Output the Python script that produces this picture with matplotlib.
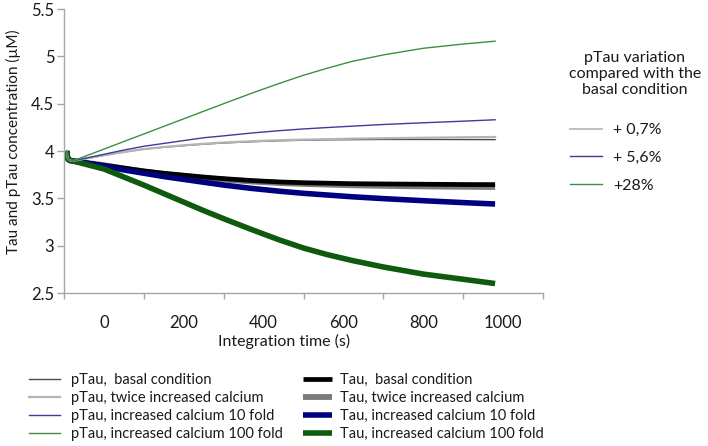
import matplotlib
matplotlib.use("Agg")
import matplotlib.pyplot as plt
from matplotlib.lines import Line2D
from matplotlib.ticker import FixedLocator, FuncFormatter

plt.rcParams['font.family'] = ['Lato', 'DejaVu Sans']

# ---- data ----
time_s = [-93, -92, -90, -85, -78, 0, 50, 100, 150, 200, 250, 300, 370, 440,
          500, 560, 620, 700, 800, 900, 980]
start = [4.00, 3.95, 3.915, 3.90, 3.895]

ptau_basal = start + [3.955, 3.99, 4.02, 4.04, 4.057, 4.072, 4.085, 4.098, 4.108,
                      4.114, 4.118, 4.12, 4.122, 4.122, 4.121, 4.12]
ptau_twice = start + [3.955, 3.99, 4.02, 4.042, 4.06, 4.076, 4.09, 4.103, 4.114,
                      4.12, 4.125, 4.13, 4.135, 4.14, 4.145, 4.148]
ptau_10 = start + [3.965, 4.01, 4.05, 4.08, 4.11, 4.14, 4.16, 4.19, 4.215,
                   4.233, 4.248, 4.262, 4.28, 4.298, 4.315, 4.33]
ptau_100 = start + [4.02, 4.10, 4.18, 4.26, 4.34, 4.42, 4.50, 4.61, 4.715,
                    4.80, 4.875, 4.945, 5.015, 5.085, 5.13, 5.16]

tau_basal = start + [3.85, 3.82, 3.79, 3.765, 3.745, 3.725, 3.708, 3.688, 3.673,
                     3.665, 3.66, 3.655, 3.652, 3.649, 3.646, 3.645]
tau_twice = start + [3.85, 3.815, 3.783, 3.757, 3.735, 3.715, 3.698, 3.678, 3.662,
                     3.652, 3.645, 3.638, 3.632, 3.626, 3.622, 3.62]
tau_10 = start + [3.84, 3.80, 3.765, 3.73, 3.70, 3.67, 3.64, 3.605, 3.575,
                  3.553, 3.535, 3.517, 3.497, 3.475, 3.455, 3.44]
tau_100 = start + [3.81, 3.725, 3.64, 3.55, 3.46, 3.37, 3.285, 3.17, 3.06,
                   2.975, 2.905, 2.845, 2.775, 2.70, 2.645, 2.60]

x_labels = [0, 200, 400, 600, 800, 1000]
y_ticks = [2.5, 3, 3.5, 4, 4.5, 5, 5.5]

ptau_labels = ["pTau,  basal condition", "pTau, twice increased calcium",
               "pTau, increased calcium 10 fold", "pTau, increased calcium 100 fold"]
tau_labels = ["Tau,  basal condition", "Tau, twice increased calcium",
              "Tau, increased calcium 10 fold", "Tau, increased calcium 100 fold"]
var_labels = ["+ 0,7%", "+ 5,6%", "+28%"]
var_title = "pTau variation\ncompared with the\nbasal condition"

# ---- styles ----
ptau_colors = ["#4a4a4a", "#b4b4b4", "#3c3c9c", "#3f8f3f"]
ptau_lw = [1.0, 1.6, 1.0, 1.0]
tau_colors = ["#000000", "#7a7a7a", "#00007f", "#0e5a0e"]
tau_lw = [3.4, 4.2, 4.0, 4.0]
txt = '#1a1a1a'

W, H = 708, 446
fig = plt.figure(figsize=(W / 100, H / 100), dpi=100)
ax = fig.add_axes([64 / W, 1 - 293 / H, (543 - 64) / W, (293 - 9) / H])

ptau_series = [ptau_basal, ptau_twice, ptau_10, ptau_100]
tau_series = [tau_basal, tau_twice, tau_10, tau_100]

tau_handles = [None] * 4
for i in [1, 0, 2, 3]:
    (h,) = ax.plot(time_s, tau_series[i], color=tau_colors[i], lw=tau_lw[i],
                   solid_joinstyle='round', solid_capstyle='butt')
    tau_handles[i] = h
ptau_handles = []
for i in range(4):
    (h,) = ax.plot(time_s, ptau_series[i], color=ptau_colors[i], lw=ptau_lw[i],
                   solid_joinstyle='round')
    ptau_handles.append(h)

ax.set_xlim(-100, 1100)
ax.set_ylim(2.5, 5.5)
ax.xaxis.set_major_locator(FixedLocator(x_labels))
ax.xaxis.set_minor_locator(FixedLocator([-100, 100, 300, 500, 700, 900, 1100]))
ax.yaxis.set_major_locator(FixedLocator(y_ticks))
ax.yaxis.set_major_formatter(FuncFormatter(lambda v, p: f"{v:g}"))

for s in ['top', 'right']:
    ax.spines[s].set_visible(False)
for s in ['left', 'bottom']:
    ax.spines[s].set_color('#a6a6a6')
    ax.spines[s].set_linewidth(1.0)

ax.tick_params(axis='x', which='major', length=0, pad=16, labelsize=12, labelcolor=txt)
ax.tick_params(axis='x', which='minor', length=4, width=1, color='#a6a6a6')
ax.tick_params(axis='y', which='major', length=5, width=1, color='#a6a6a6', pad=2,
               labelsize=12, labelcolor=txt)

ax.set_xlabel("Integration time (s)", fontsize=11.5, color=txt)
ax.xaxis.set_label_coords((284 - 64) / 479, (293 - 334) / 284)
ax.set_ylabel("Tau and pTau concentration (µM)", fontsize=11, color=txt)
ax.yaxis.set_label_coords((21 - 64) / 479, (293 - 142) / 284)

# bottom legends
leg1 = fig.legend(ptau_handles, ptau_labels, loc='upper left',
                  bbox_to_anchor=(29 / W, 1 - 373 / H), frameon=False, fontsize=10.5,
                  handlelength=2.1, handletextpad=0.75, labelspacing=0.28,
                  borderpad=0, borderaxespad=0)
leg2 = fig.legend(tau_handles, tau_labels, loc='upper left',
                  bbox_to_anchor=(303 / W, 1 - 373 / H), frameon=False, fontsize=10.5,
                  handlelength=2.0, handletextpad=0.55, labelspacing=0.28,
                  borderpad=0, borderaxespad=0)
for t in leg1.get_texts() + leg2.get_texts():
    t.set_color(txt)

# right legend
fig.text(635 / W, 1 - 51 / H, var_title, ha='center', va='top', fontsize=11.5,
         linespacing=1.2, color=txt)
var_handles = [Line2D([], [], color=ptau_colors[1], lw=1.2),
               Line2D([], [], color=ptau_colors[2], lw=1.0),
               Line2D([], [], color=ptau_colors[3], lw=1.0)]
leg3 = fig.legend(var_handles, var_labels, loc='upper left',
                  bbox_to_anchor=(570 / W, 1 - 123 / H), frameon=False, fontsize=11.5,
                  handlelength=2.0, handletextpad=0.7, labelspacing=0.85,
                  borderpad=0, borderaxespad=0)
for t in leg3.get_texts():
    t.set_color(txt)

fig.savefig("out.png", dpi=100)
